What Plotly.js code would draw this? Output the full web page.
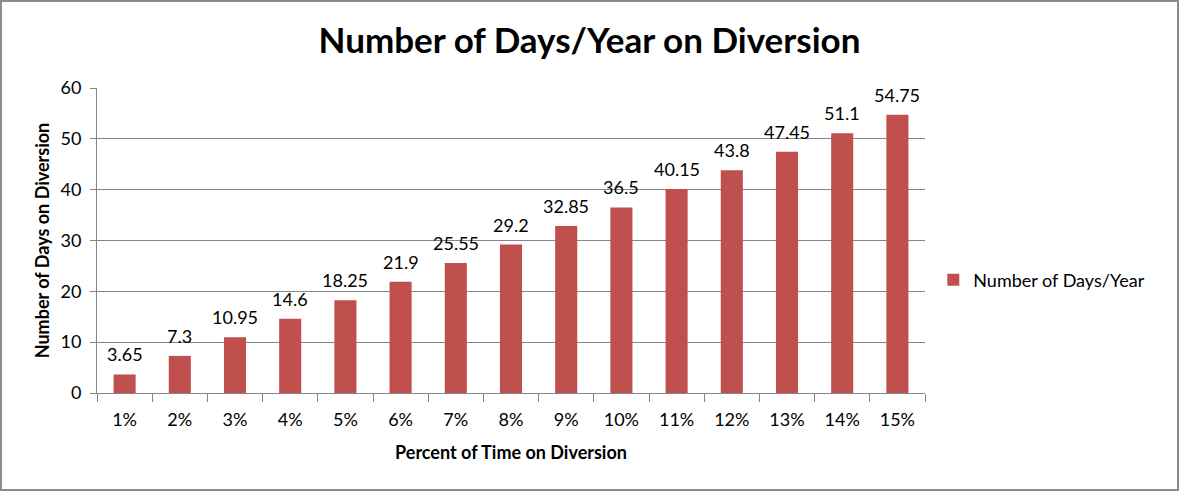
<!DOCTYPE html>
<html><head><meta charset="utf-8">
<script src="https://cdn.plot.ly/plotly-3.0.1.min.js"></script>
<style>html,body{margin:0;padding:0;background:#fff;}#chart{width:1179px;height:491px;box-sizing:border-box;border:2px solid #8c8c8c;}</style>
</head><body><div id="chart"></div>
<script>
const categories = ["1%","2%","3%","4%","5%","6%","7%","8%","9%","10%","11%","12%","13%","14%","15%"];
const daysPerYear = [3.65,7.3,10.95,14.6,18.25,21.9,25.55,29.2,32.85,36.5,40.15,43.8,47.45,51.1,54.75];
const seriesName = "Number of Days/Year";
const FONT = "Lato, 'Open Sans', sans-serif";
const labels = categories.map((c, i) => ({
  x: c, y: daysPerYear[i], xref: 'x', yref: 'y', text: String(daysPerYear[i]),
  showarrow: false, yanchor: 'bottom', yshift: 7,
  font: {family: FONT, size: 18, color: '#000'}
}));
Plotly.newPlot('chart', [{
  type: 'bar', x: categories, y: daysPerYear, name: seriesName,
  marker: {color: '#C0504D'}
}], {
  width: 1175, height: 487,
  margin: {l: 95, r: 252, t: 86, b: 96},
  paper_bgcolor: '#fff', plot_bgcolor: '#fff',
  bargap: 0.6,
  annotations: labels,
  title: {text: '<b>Number of Days/Year on Diversion</b>', x: 0.5, xanchor: 'center', y: 0.92, yanchor: 'middle', font: {family: FONT, size: 35, color: '#000'}},
  xaxis: {type: 'category', tickson: 'boundaries', ticks: 'outside', ticklen: 8, tickcolor: '#868686',
    showline: true, linecolor: '#868686', linewidth: 1, ticklabelstandoff: 10,
    tickfont: {family: FONT, size: 18, color: '#000'},
    title: {text: '<b>Percent of Time on Diversion</b>', font: {family: FONT, size: 18, color: '#000'}, standoff: 17}},
  yaxis: {range: [0, 60], dtick: 10, ticks: 'outside', ticklen: 6, tickcolor: '#868686',
    showline: true, linecolor: '#868686', gridcolor: '#868686', gridwidth: 1, zeroline: false,
    ticklabelstandoff: 5,
    tickfont: {family: FONT, size: 18, color: '#000'},
    title: {text: '<b>Number of Days on Diversion</b>', font: {family: FONT, size: 18, color: '#000'}, standoff: 6}},
  showlegend: true,
  legend: {x: 1.01, xanchor: 'left', y: 0.37, yanchor: 'middle', font: {family: FONT, size: 18, color: '#000'}}
}, {displayModeBar: false, staticPlot: true});
</script></body></html>
